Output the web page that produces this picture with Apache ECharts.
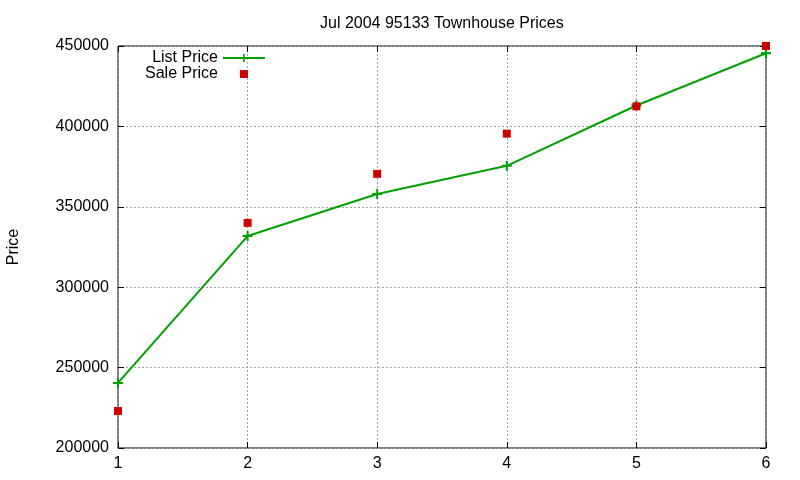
<!DOCTYPE html>
<html>
<head>
<meta charset="utf-8">
<script src="https://cdn.jsdelivr.net/npm/echarts@6/dist/echarts.min.js"></script>
<style>
  html, body { margin: 0; padding: 0; background: #fff; }
  #chart { width: 800px; height: 480px; }
</style>
</head>
<body>
<div id="chart"></div>
<script>
// x index and prices
const xValues = [1, 2, 3, 4, 5, 6];
const listPrice = [240500, 331800, 358000, 375500, 413000, 445500];
const salePrice = [223000, 340000, 370500, 395500, 412500, 450000];
const yTicks = [200000, 250000, 300000, 350000, 400000, 450000];

const plusSymbol = "path://M4,0H6V4H10V6H6V10H4V6H0V4H4Z";
// small square centred in a 42x10 legend box (degenerate corner points set the box)
const saleLegendIcon = "path://M0,0L0.01,0L0,0.01Z M42,10L41.99,10L42,9.99Z M17,1H25V9H17Z";
const font = "Liberation Sans, Arial, sans-serif";

const chart = echarts.init(document.getElementById("chart"));

const tickStyle = { show: true, inside: true, length: 6, lineStyle: { color: "#000" } };
const gridLine = { show: true, lineStyle: { color: "#a0a0a0", type: [2, 2], width: 1 } };

chart.setOption({
  animation: false,
  textStyle: { fontFamily: font },
  title: {
    text: "Jul 2004 95133 Townhouse Prices",
    left: 315,
    top: 11,
    textStyle: { fontFamily: font, fontSize: 16, fontWeight: "normal", color: "#000" },
  },
  grid: {
    left: 118,
    right: 34,
    top: 46,
    bottom: 32,
    outerBoundsMode: "none",
    containLabel: false,
    show: true,
    borderColor: "#000",
    borderWidth: 1,
  },
  legend: {
    orient: "vertical",
    left: 140,
    top: 45,
    align: "right",
    itemWidth: 42,
    itemHeight: 10,
    itemGap: 0,
    textStyle: { fontFamily: font, fontSize: 16, color: "#000" },
    data: [
      { name: "List Price" },
      { name: "Sale Price", icon: saleLegendIcon },
    ],
  },
  xAxis: [
    {
      type: "value",
      min: 1,
      max: 6,
      interval: 1,
      axisLine: { show: false },
      axisTick: tickStyle,
      splitLine: gridLine,
      axisLabel: { color: "#000", fontSize: 16, margin: 8, fontFamily: font },
    },
    {
      type: "value",
      position: "top",
      min: 1,
      max: 6,
      interval: 1,
      axisLine: { show: false },
      axisTick: tickStyle,
      splitLine: { show: false },
      axisLabel: { show: false },
    },
  ],
  yAxis: [
    {
      type: "value",
      min: yTicks[0],
      max: yTicks[yTicks.length - 1],
      interval: 50000,
      name: "Price",
      nameLocation: "middle",
      nameGap: 96,
      nameTextStyle: { color: "#000", fontSize: 16, fontFamily: font },
      axisLine: { show: false },
      axisTick: tickStyle,
      splitLine: gridLine,
      axisLabel: {
        color: "#000",
        fontSize: 16,
        margin: 9,
        fontFamily: font,
        formatter: (v) => String(v),
      },
    },
    {
      type: "value",
      position: "right",
      min: yTicks[0],
      max: yTicks[yTicks.length - 1],
      interval: 50000,
      axisLine: { show: false },
      axisTick: tickStyle,
      splitLine: { show: false },
      axisLabel: { show: false },
    },
  ],
  series: [
    {
      name: "List Price",
      type: "line",
      data: xValues.map((x, i) => [x, listPrice[i]]),
      color: "#00a000",
      lineStyle: { width: 2, color: "#00a000" },
      symbol: plusSymbol,
      symbolSize: 10,
      itemStyle: { color: "#00a000" },
      showAllSymbol: true,
      z: 3,
    },
    {
      name: "Sale Price",
      type: "scatter",
      data: xValues.map((x, i) => [x, salePrice[i]]),
      color: "#cc0000",
      symbol: "rect",
      symbolSize: 8,
      itemStyle: { color: "#cc0000", opacity: 1 },
      z: 4,
    },
  ],
});
</script>
</body>
</html>
